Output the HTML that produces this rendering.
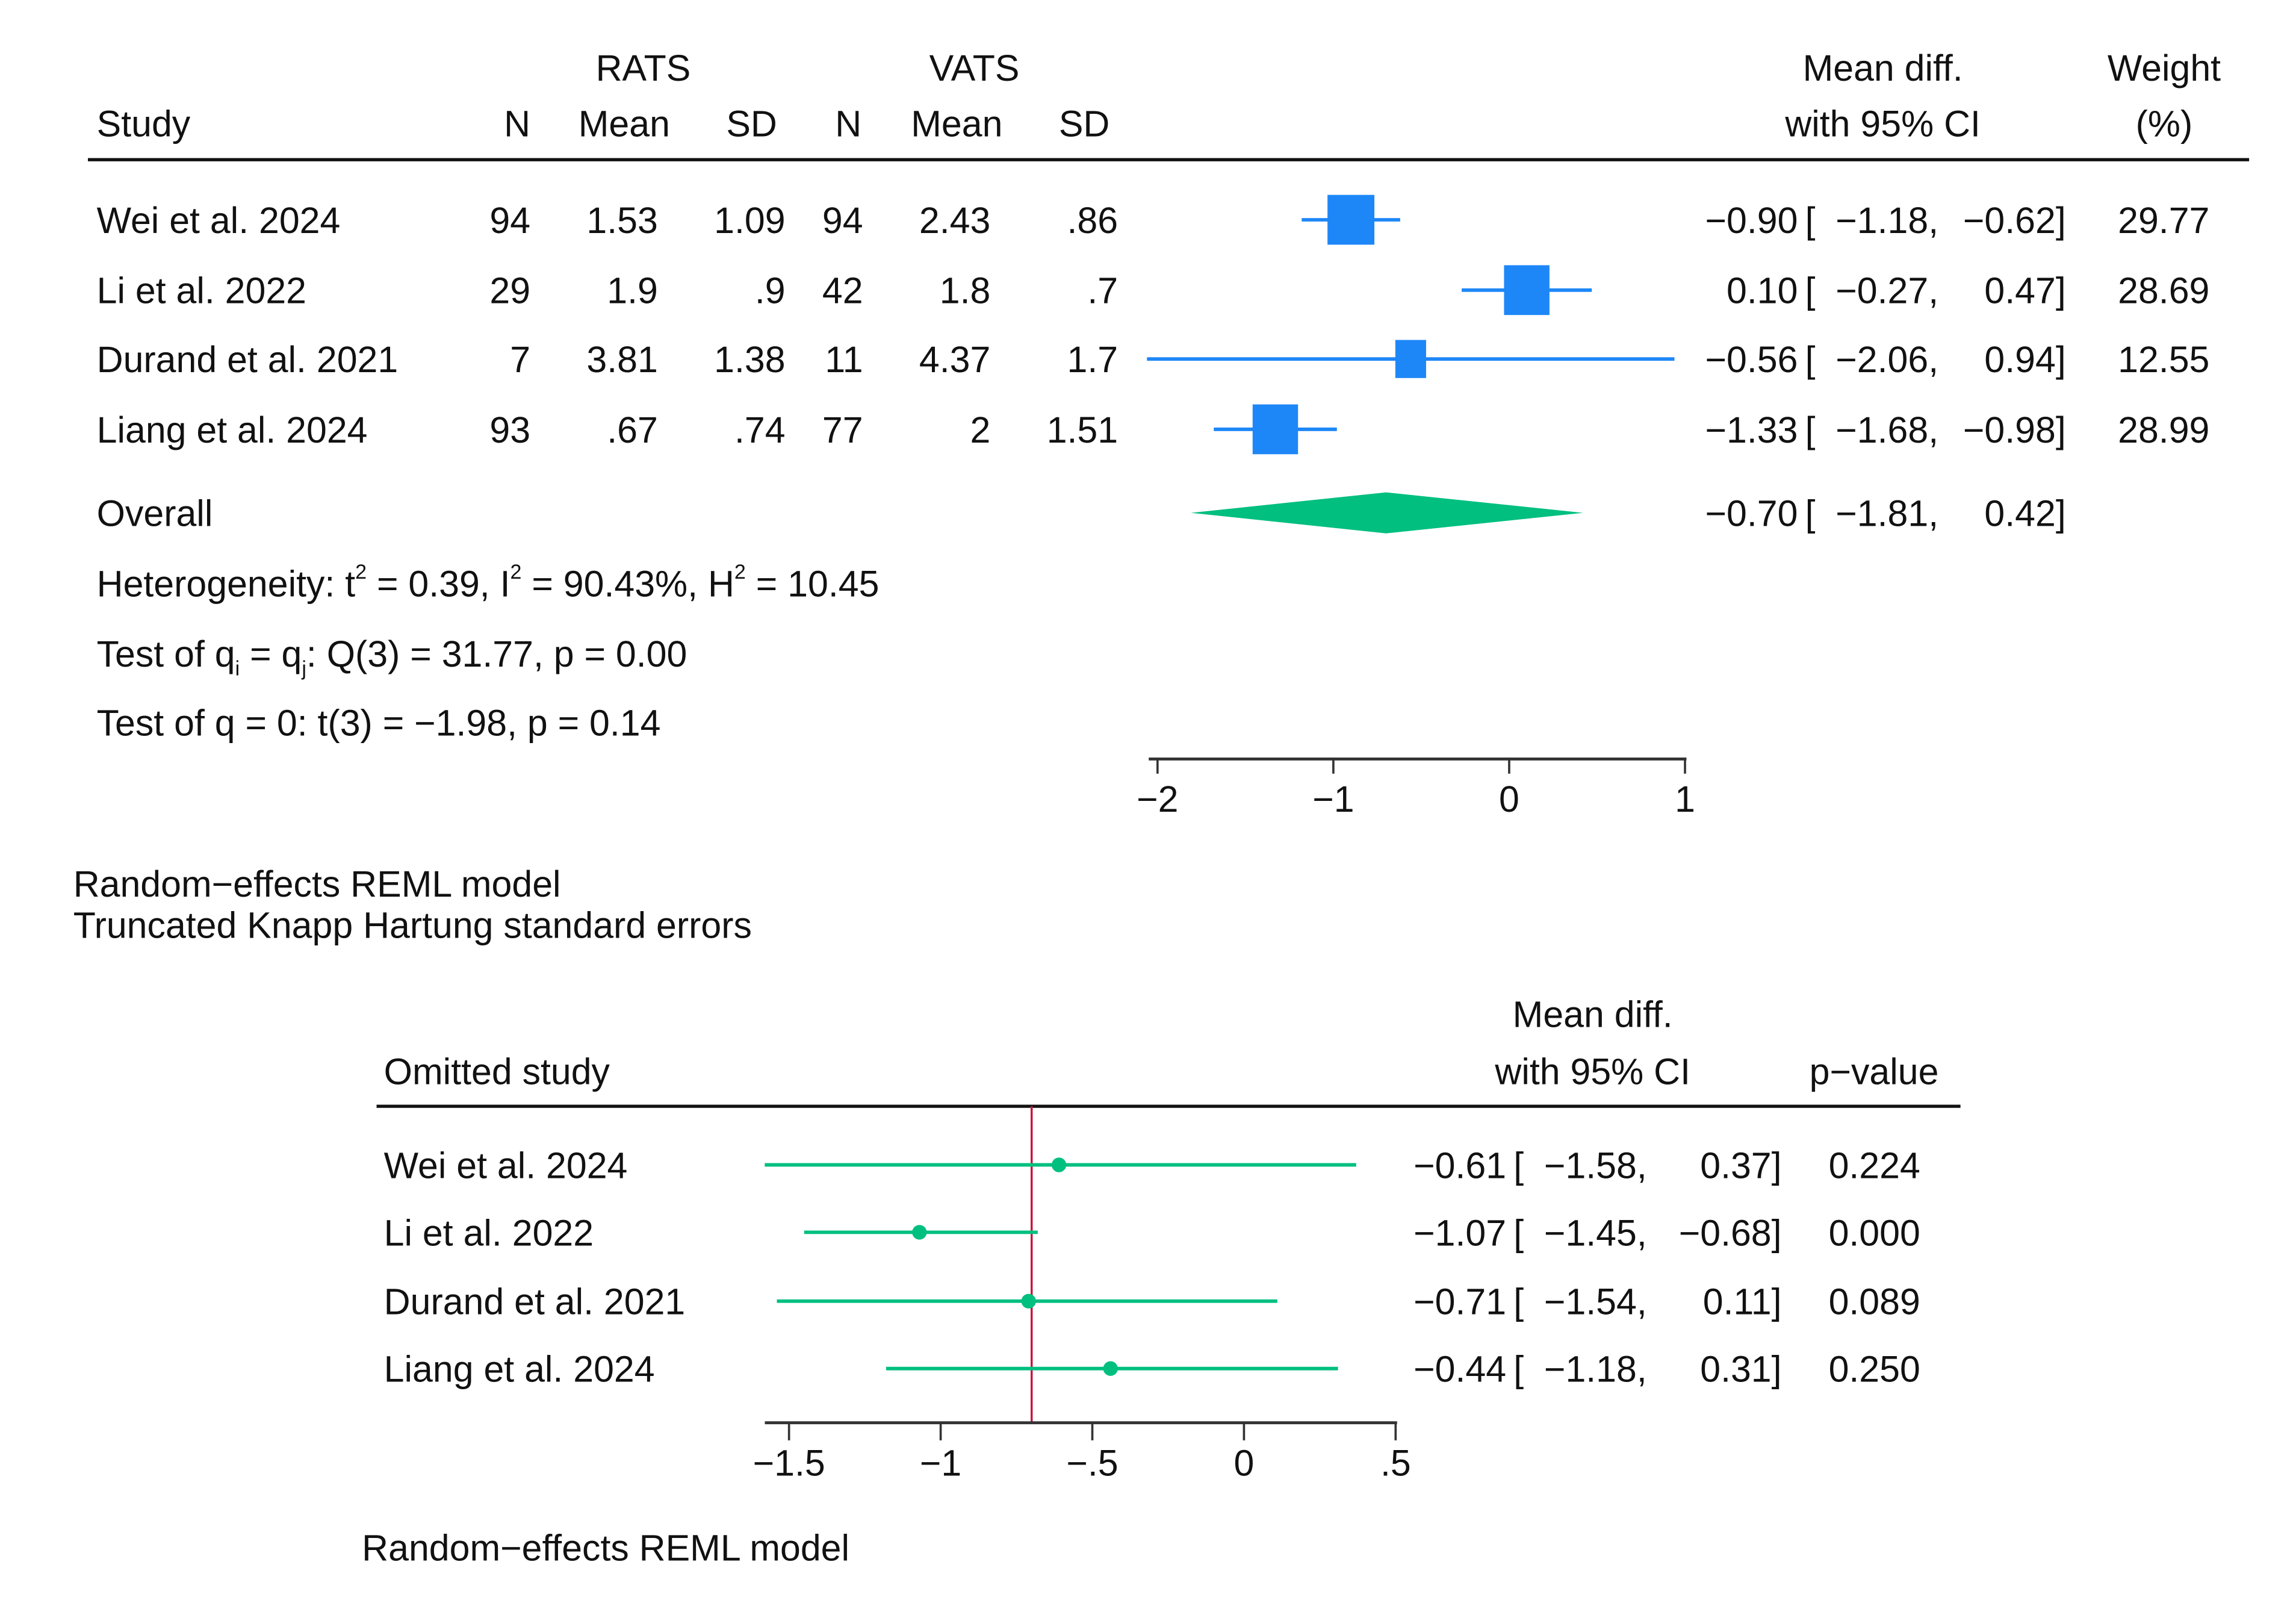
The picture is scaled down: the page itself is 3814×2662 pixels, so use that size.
<!DOCTYPE html>
<html><head><meta charset="utf-8">
<style>
html,body{margin:0;padding:0;background:#fff;}
svg{display:block;}
text{font-family:"Liberation Sans",sans-serif;font-size:25px;fill:#111;}
</style></head>
<body>
<svg id="chart" width="3814" height="2662" viewBox="0 0 1567 1094" preserveAspectRatio="none" xmlns="http://www.w3.org/2000/svg">
<g id="topPanel"></g>
<g id="botPanel"></g>
</svg>
<script>
// ---- Top panel data ----
const studies = ["Wei et al. 2024","Li et al. 2022","Durand et al. 2021","Liang et al. 2024"];
const ratsN = ["94","29","7","93"];
const ratsMean = ["1.53","1.9","3.81",".67"];
const ratsSD = ["1.09",".9","1.38",".74"];
const vatsN = ["94","42","11","77"];
const vatsMean = ["2.43","1.8","4.37","2"];
const vatsSD = [".86",".7","1.7","1.51"];
const est = [-0.90, 0.10, -0.56, -1.33];
const lower = [-1.18, -0.27, -2.06, -1.68];
const upper = [-0.62, 0.47, 0.94, -0.98];
const weights = [29.77, 28.69, 12.55, 28.99];
const overall = [-0.70, -1.81, 0.42];
const topTicks = [-2, -1, 0, 1];
// ---- Bottom panel data ----
const omitStudies = ["Wei et al. 2024","Li et al. 2022","Durand et al. 2021","Liang et al. 2024"];
const omitEst = [-0.61, -1.07, -0.71, -0.44];
const omitLow = [-1.58, -1.45, -1.54, -1.18];
const omitUp = [0.37, -0.68, 0.11, 0.31];
const omitP = ["0.224","0.000","0.089","0.250"];
const botTicks = [-1.5, -1, -0.5, 0, 0.5];
const botTickLabels = ["−1.5","−1","−.5","0",".5"];
const refLine = -0.70;

const NS="http://www.w3.org/2000/svg";
function mk(parent, tag, attrs, txt){
  const e=document.createElementNS(NS,tag);
  for(const k in attrs) e.setAttribute(k,attrs[k]);
  if(txt!==undefined) e.textContent=txt;
  parent.appendChild(e); return e;
}
function fmt(v){ return (v<0?"−":"")+Math.abs(v).toFixed(2); }
const topG=document.getElementById('topPanel');
const botG=document.getElementById('botPanel');
const xT = v => 1030 + v*120;
const xB = v => 849 + v*207;

function txt(parent,x,y,s,anchor,name){
  const t=mk(parent,'text',{x:x,y:y,'text-anchor':anchor||'start'},s);
  
  
  return t;
}
// top headers
txt(topG,439,55,"RATS","middle","rats-header");
txt(topG,665,55,"VATS","middle","vats-header");
txt(topG,66,93,"Study","start","study-header");
txt(topG,362,93,"N","end","rats-n-header");
txt(topG,426,93,"Mean","middle","rats-mean-header");
txt(topG,513,93,"SD","middle","rats-sd-header");
txt(topG,588,93,"N","end","vats-n-header");
txt(topG,653,93,"Mean","middle","vats-mean-header");
txt(topG,740,93,"SD","middle","vats-sd-header");
txt(topG,1285,55,"Mean diff.","middle","meandiff-header");
txt(topG,1285,93,"with 95% CI","middle","ci-header");
txt(topG,1477,55,"Weight","middle","weight-header");
txt(topG,1477,93,"(%)","middle","weight-unit-header");
let r=mk(topG,'line',{x1:60,y1:109,x2:1535,y2:109,stroke:'#111','stroke-width':2.2});



const rowY=[150,198,245,293];
const boxW=[32,31,21,31], boxH=[34,34,26,34];
studies.forEach((s,i)=>{
  const y=rowY[i], b=y+9;
  txt(topG,66,b,s,"start","study-name");
  txt(topG,362,b,ratsN[i],"end","rats-n");
  txt(topG,449,b,ratsMean[i],"end","rats-mean");
  txt(topG,536,b,ratsSD[i],"end","rats-sd");
  txt(topG,589,b,vatsN[i],"end","vats-n");
  txt(topG,676,b,vatsMean[i],"end","vats-mean");
  txt(topG,763,b,vatsSD[i],"end","vats-sd");
  const l=mk(topG,'line',{x1:xT(lower[i]),y1:y,x2:xT(upper[i]),y2:y,stroke:'#1e87f7','stroke-width':2.4});
  
  
  const h=boxH[i];
  const bx=mk(topG,'rect',{x:xT(est[i])-boxW[i]/2,y:y-h/2,width:boxW[i],height:h,fill:'#1e87f7'});
  
  
  txt(topG,1227,b,fmt(est[i]),"end","effect-estimate");
  txt(topG,1232,b,"[","start","bracket");
  txt(topG,1323,b,fmt(lower[i])+",","end","ci-lower");
  txt(topG,1403,b,fmt(upper[i]),"end","ci-upper");
  txt(topG,1403,b,"]","start","bracket");
  txt(topG,1508,b,weights[i].toFixed(2),"end","weight-value");
});
// overall
txt(topG,66,359,"Overall","start","overall-label");
const dy=350;
const dia=mk(topG,'polygon',{points:`${xT(overall[1])},${dy} ${xT(overall[0])},${dy-14} ${xT(overall[2])},${dy} ${xT(overall[0])},${dy+14}`,fill:'#00bf7f'});


txt(topG,1227,359,fmt(overall[0]),"end","overall-estimate");
txt(topG,1232,359,"[","start","bracket");
txt(topG,1323,359,fmt(overall[1])+",","end","overall-lower");
txt(topG,1403,359,fmt(overall[2]),"end","overall-upper");
txt(topG,1403,359,"]","start","bracket");
// stats text
let h1=mk(topG,'text',{x:66,y:407});


h1.innerHTML='Heterogeneity: t<tspan dy="-12" font-size="14">2</tspan><tspan dy="12"> = 0.39, I</tspan><tspan dy="-12" font-size="14">2</tspan><tspan dy="12"> = 90.43%, H</tspan><tspan dy="-12" font-size="14">2</tspan><tspan dy="12"> = 10.45</tspan>';
let h2=mk(topG,'text',{x:66,y:455});


h2.innerHTML='Test of q<tspan dy="6" font-size="14">i</tspan><tspan dy="-6"> = q</tspan><tspan dy="6" font-size="14">j</tspan><tspan dy="-6">: Q(3) = 31.77, p = 0.00</tspan>';
txt(topG,66,502,"Test of q = 0: t(3) = −1.98, p = 0.14","start","theta-test-text");
// top axis
let ax=mk(topG,'line',{x1:xT(-2)-6,y1:518,x2:xT(1)+1,y2:518,stroke:'#333','stroke-width':2});


topTicks.forEach(t=>{
  const k=mk(topG,'line',{x1:xT(t),y1:518,x2:xT(t),y2:528,stroke:'#333','stroke-width':1.5});
  
  
  txt(topG,xT(t),554,(t<0?"−":"")+Math.abs(t),"middle","top-tick-label");
});
txt(topG,50,612,"Random−effects REML model","start","model-note");
txt(topG,50,640,"Truncated Knapp  Hartung standard errors","start","se-note");

// bottom panel
txt(botG,1087,701,"Mean diff.","middle","meandiff-header");
txt(botG,262,740,"Omitted study","start","omitted-study-header");
txt(botG,1087,740,"with 95% CI","middle","ci-header");
txt(botG,1279,740,"p−value","middle","pvalue-header");
r=mk(botG,'line',{x1:257,y1:755,x2:1338,y2:755,stroke:'#111','stroke-width':2.2});


const rl=mk(botG,'line',{x1:xB(refLine),y1:755,x2:xB(refLine),y2:971,stroke:'#c8143c','stroke-width':1.4});


const bY=[795,841,888,934];
omitStudies.forEach((s,i)=>{
  const y=bY[i], b=y+9;
  txt(botG,262,b,s,"start","omitted-study-name");
  const l=mk(botG,'line',{x1:xB(omitLow[i]),y1:y,x2:xB(omitUp[i]),y2:y,stroke:'#00bf7f','stroke-width':2.4});
  
  
  const c=mk(botG,'circle',{cx:xB(omitEst[i]),cy:y,r:5,fill:'#00bf7f'});
  
  
  txt(botG,1028,b,fmt(omitEst[i]),"end","loo-estimate");
  txt(botG,1033,b,"[","start","bracket");
  txt(botG,1124,b,fmt(omitLow[i])+",","end","loo-lower");
  txt(botG,1209,b,fmt(omitUp[i]),"end","loo-upper");
  txt(botG,1209,b,"]","start","bracket");
  txt(botG,1248,b,omitP[i],"start","loo-pvalue");
});
ax=mk(botG,'line',{x1:522,y1:971,x2:xB(0.5)+1,y2:971,stroke:'#333','stroke-width':2});


botTicks.forEach((t,i)=>{
  const k=mk(botG,'line',{x1:xB(t),y1:971,x2:xB(t),y2:983,stroke:'#333','stroke-width':1.5});
  
  
  txt(botG,xB(t),1007,botTickLabels[i],"middle","bottom-tick-label");
});
txt(botG,247,1065,"Random−effects REML model","start","model-note");
</script>
</body></html>
